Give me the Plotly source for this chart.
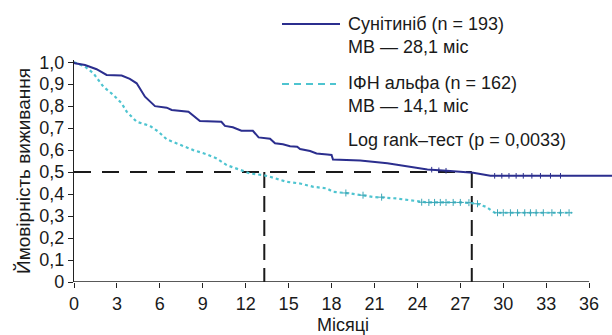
import plotly.graph_objects as go

# Sunitinib KM curve (months, survival probability)
sun_x = [0, 0.07, 0.77, 1.58, 2.28, 3.33, 3.9, 4.38, 4.96, 5.66, 6.48, 6.83, 8.0, 8.8, 10.3, 10.55,
         11.1, 11.7, 12.5, 12.9, 13.7, 14.05, 14.6, 15.1, 15.6, 15.8, 16.5, 16.95, 17.7, 18.0, 18.1,
         20.0, 21.9, 23.5, 24.7, 26.05, 27.0, 27.9, 29.1, 37.6]
sun_y = [1.0, 0.995, 0.987, 0.968, 0.942, 0.939, 0.924, 0.904, 0.843, 0.80, 0.793, 0.783, 0.775, 0.732,
         0.729, 0.71, 0.704, 0.688, 0.688, 0.658, 0.652, 0.631, 0.627, 0.618, 0.615, 0.605, 0.596,
         0.585, 0.58, 0.578, 0.557, 0.553, 0.54, 0.524, 0.512, 0.506, 0.501, 0.497, 0.483, 0.483]

# IFN-alfa KM curve
ifn_x = [0, 0.07, 0.77, 1.35, 2.05, 2.75, 3.33, 3.68, 4.38, 5.31, 5.9, 6.48, 7.41, 8.34, 9.27, 9.97,
         10.67, 11.37, 11.84, 12.3, 13.23, 13.7, 14.86, 15.8, 16.73, 17.66, 18.1, 19.3, 20.9, 22.55,
         24.65, 27.2, 28.1, 28.8, 29.4, 34.8]
ifn_y = [1.0, 0.998, 0.98, 0.95, 0.889, 0.851, 0.813, 0.775, 0.729, 0.71, 0.684, 0.649, 0.623, 0.60,
         0.581, 0.562, 0.532, 0.517, 0.505, 0.494, 0.486, 0.479, 0.456, 0.448, 0.433, 0.426, 0.41,
         0.403, 0.387, 0.38, 0.362, 0.362, 0.357, 0.342, 0.315, 0.315]

# censoring marks
sun_cx = [25.0, 25.5, 26.0, 29.4, 29.9, 30.4, 30.9, 31.4, 32.0, 32.6, 33.3, 34.0]
sun_cy = [0.511, 0.508, 0.506, 0.483, 0.483, 0.483, 0.483, 0.483, 0.483, 0.483, 0.483, 0.483]
ifn_cx = [19.0, 20.2, 21.5, 24.3, 24.8, 25.2, 25.6, 26.0, 26.5, 27.0, 27.6, 28.2, 29.6, 30.0, 30.5,
          31.0, 31.5, 31.9, 32.3, 32.8, 33.4, 34.0, 34.6]
ifn_cy = [0.405, 0.395, 0.386, 0.363, 0.362, 0.362, 0.362, 0.362, 0.362, 0.362, 0.361, 0.356, 0.315,
          0.315, 0.315, 0.315, 0.315, 0.315, 0.315, 0.315, 0.315, 0.315, 0.315]

medians_x = [13.3, 27.8]
half = 0.5

x_ticks = list(range(0, 37, 3))
y_ticks = [0, 0.1, 0.2, 0.3, 0.4, 0.5, 0.6, 0.7, 0.8, 0.9, 1.0]
y_tick_text = ["0", "0,1", "0,2", "0,3", "0,4", "0,5", "0,6", "0,7", "0,8", "0,9", "1,0"]

legend_lines = ["Сунітиніб (n = 193)", "МВ — 28,1 міс", "ІФН альфа (n = 162)", "МВ — 14,1 міс",
                "Log rank–тест (p = 0,0033)"]

NAVY = "#2B2E8E"
CYAN = "#4EC4D0"
CYAN_D = "#3BA6B6"
FONT = "Liberation Sans, Arial, sans-serif"
FS = 18

fig = go.Figure()
fig.add_trace(go.Scatter(x=ifn_x, y=ifn_y, mode="lines",
                         line=dict(color=CYAN, width=2.2, dash="dot"), hoverinfo="skip"))
fig.add_trace(go.Scatter(x=sun_x, y=sun_y, mode="lines",
                         line=dict(color=NAVY, width=2), hoverinfo="skip"))
fig.add_trace(go.Scatter(x=ifn_cx, y=ifn_cy, mode="markers",
                         marker=dict(symbol="cross-thin-open", size=5, color=CYAN_D,
                                     line=dict(color=CYAN_D, width=1)), hoverinfo="skip"))
fig.add_trace(go.Scatter(x=sun_cx, y=sun_cy, mode="markers",
                         marker=dict(symbol="line-ns-open", size=4, color=NAVY,
                                     line=dict(color=NAVY, width=1)), hoverinfo="skip"))

# median reference lines
fig.add_shape(type="line", x0=0, x1=medians_x[1], y0=half, y1=half,
              line=dict(color="#1a1a1a", width=2, dash="17px,11px"), layer="below")
for mx in medians_x:
    fig.add_shape(type="line", x0=mx, x1=mx, y0=half, y1=0,
                  line=dict(color="#1a1a1a", width=2, dash="16px,8px"), layer="below")

# x axis line up to 36
fig.add_shape(type="line", x0=0, x1=36, y0=0, y1=0, line=dict(color="#222", width=1.3))

# legend
fig.add_shape(type="line", xref="paper", yref="paper", x0=(282 - 74) / 538, x1=(340 - 74) / 538,
              y0=1 + (60 - 24) / 222, y1=1 + (60 - 24) / 222, line=dict(color=NAVY, width=2))
fig.add_shape(type="line", xref="paper", yref="paper", x0=(282 - 74) / 538, x1=(336 - 74) / 538,
              y0=1 + (60 - 84) / 222, y1=1 + (60 - 84) / 222,
              line=dict(color=CYAN, width=2, dash="7px,5px"))
ys = [24, 47, 83, 106, 140]
for t, yy in zip(legend_lines, ys):
    fig.add_annotation(xref="paper", yref="paper", x=(346 - 74) / 538, y=1 + (60 - yy) / 222,
                       text=t, showarrow=False, xanchor="left", yanchor="middle",
                       font=dict(family=FONT, size=FS, color="#1a1a1a"))

fig.update_layout(
    width=612, height=335,
    margin=dict(l=74, r=0, t=60, b=53),
    plot_bgcolor="white", paper_bgcolor="white",
    showlegend=False,
    font=dict(family=FONT, size=FS, color="#1a1a1a"),
    xaxis=dict(range=[0, 37.6], tickvals=x_ticks, ticktext=[str(v) for v in x_ticks],
               ticks="outside", ticklen=5, tickcolor="#222", showgrid=False, zeroline=False,
               showline=False,
               title=dict(text="Місяці", standoff=9, font=dict(size=FS))),
    yaxis=dict(range=[0, 1.01], tickvals=y_ticks, ticktext=y_tick_text,
               ticks="outside", ticklen=5, tickcolor="#222", showgrid=False, zeroline=False,
               showline=True, linecolor="#222", linewidth=1.3,
               title=dict(text="Ймовірність виживання", standoff=3, font=dict(size=19))),
)

fig.write_html("out.html")
